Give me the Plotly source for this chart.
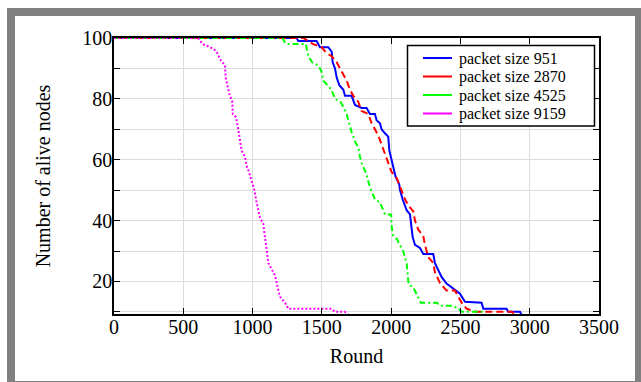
import plotly.graph_objects as go

# ---------------- data ----------------
series_names = ["packet size 951", "packet size 2870", "packet size 4525", "packet size 9159"]

rounds_951 = [0, 1318, 1330, 1462, 1486, 1546, 1571, 1578, 1595, 1607, 1626, 1655, 1667, 1715,
              1739, 1787, 1823, 1847, 1883, 1895, 1919, 1931, 1955, 1979, 1987, 2004, 2015, 2032,
              2058, 2064, 2083, 2112, 2136, 2148, 2155, 2172, 2208, 2232, 2304, 2316, 2340, 2364,
              2400, 2436, 2472, 2497, 2533, 2653, 2665, 2833, 2845, 2930, 2942, 3074]
alive_951 = [100, 100, 99, 99, 97, 97, 95.5, 92, 90, 87, 84.5, 83, 81, 81,
             78, 77, 77, 75, 75, 73, 72, 70, 68.7, 67.6, 63, 60, 58, 54.4,
             52, 50, 47, 43.4, 42, 38, 34.7, 32, 31, 29, 29, 26, 23.7, 21.5,
             19.3, 18, 17, 16, 13.3, 13, 11, 11, 10, 10, 9, 9]

rounds_2870 = [0, 1366, 1438, 1498, 1534, 1571, 1607, 1631, 1655, 1679, 1703, 1727, 1763, 1787,
               1835, 1859, 1883, 1907, 1931, 1955, 1979, 2003, 2040, 2064, 2100, 2124, 2160, 2172,
               2196, 2232, 2244, 2268, 2304, 2316, 2352, 2400, 2460, 2484, 2509, 2545, 2617, 2870,
               2900, 3110]
alive_2870 = [100, 100, 98, 97, 95, 94, 92, 90, 88, 86, 83, 81, 79, 76,
              75, 72, 70, 68, 65, 62, 59, 56, 54, 51, 47, 45, 43, 40,
              37, 35, 32, 28, 26, 23, 19.5, 17, 17, 15, 13, 11, 10, 10,
              9, 9]

rounds_4525 = [0, 1215, 1241, 1385, 1402, 1430, 1474, 1498, 1510, 1546, 1570, 1595, 1635, 1660,
               1679, 1703, 1715, 1739, 1763, 1775, 1787, 1823, 1847, 1883, 1919, 1956, 1968, 2000,
               2004, 2015, 2040, 2064, 2087, 2112, 2126, 2160, 2215, 2330, 2352, 2448, 2484, 2509,
               2665, 2680]
alive_4525 = [100, 100, 98, 98, 94, 92, 91, 89, 86, 84, 83, 80, 79, 77,
              75, 71, 69, 66, 64, 61, 59, 55, 51, 47, 46, 42, 42, 42,
              38, 35, 34, 32, 30, 26, 19, 18, 13, 13, 12, 12, 11, 10,
              10, 9]

rounds_9159 = [0, 606, 640, 693, 729, 746, 765, 784, 801, 806, 813, 825, 837, 854, 857, 880, 893,
               902, 909, 921, 945, 957, 974, 993, 1013, 1029, 1053, 1077, 1090, 1102, 1114, 1138,
               1162, 1186, 1198, 1234, 1258, 1571, 1595, 1667, 1691]
alive_9159 = [100, 100, 98, 97, 96, 95, 93, 92, 91, 87, 85, 83, 81, 79, 75, 74, 71,
              68, 66, 63, 61, 58, 56, 53, 50, 46, 41, 39, 35, 30, 26, 24,
              22, 17, 15, 13, 11, 11, 10, 10, 9]

x_ticks = [0, 500, 1000, 1500, 2000, 2500, 3000, 3500]
y_ticks = [10, 20, 30, 40, 50, 60, 70, 80, 90, 100]
y_ticktext = ["", "20", "", "40", "", "60", "", "80", "", "100"]

colors = ["#0000ff", "#ff0000", "#00ff00", "#ff00ff"]
dashes = ["solid", "7px,4px", "6px,3px,2px,3px", "2px,2px"]

# ---------------- layout geometry (pixels) ----------------
W, H = 641, 382
ML, MR, MT, MB = 114, 42, 38, 68
PW, PH = W - ML - MR, H - MT - MB


def px(xp):
    return (xp - ML) / PW


def py(yp):
    return (H - MB - yp) / PH


FONT = "Liberation Serif"

fig = go.Figure()
all_x = [rounds_951, rounds_2870, rounds_4525, rounds_9159]
all_y = [alive_951, alive_2870, alive_4525, alive_9159]
for name, xs, ys, c, d in zip(series_names, all_x, all_y, colors, dashes):
    fig.add_trace(go.Scatter(x=xs, y=ys, mode="lines", name=name, showlegend=False,
                             line=dict(color=c, width=2, dash=d)))

LEG_TOP, LEG_STEP = 58, 18.5
leg_line_y = [LEG_TOP + i * LEG_STEP for i in range(4)]
shapes = [
    # gray frame
    dict(type="rect", xref="paper", yref="paper", x0=px(7), x1=px(700), y0=py(8), y1=py(460),
         fillcolor="#808080", line=dict(width=0), layer="below"),
    dict(type="rect", xref="paper", yref="paper", x0=px(15), x1=px(635), y0=py(16), y1=py(381),
         fillcolor="#ffffff", line=dict(width=0), layer="below"),
    # legend box
    dict(type="rect", xref="paper", yref="paper", x0=px(407.5), x1=px(594.5), y0=py(45.5),
         y1=py(leg_line_y[-1] + 12.5),
         fillcolor="#ffffff", line=dict(color="#000000", width=1.5), layer="above"),
]
annotations = []
for name, c, ly in zip(series_names, colors, leg_line_y):
    shapes.append(dict(type="line", xref="paper", yref="paper", x0=px(423), x1=px(452),
                       y0=py(ly), y1=py(ly), line=dict(color=c, width=2), layer="above"))
    annotations.append(dict(xref="paper", yref="paper", x=px(458), y=py(ly + 0.5), text=name,
                            showarrow=False, xanchor="left", yanchor="middle", borderpad=0,
                            font=dict(family=FONT, size=16, color="#000000")))

fig.update_layout(
    width=W, height=H,
    margin=dict(l=ML, r=MR, t=MT, b=MB, pad=0),
    paper_bgcolor="#ffffff", plot_bgcolor="#ffffff",
    font=dict(family=FONT, size=20, color="#000000"),
    shapes=shapes, annotations=annotations, showlegend=False,
)
fig.update_xaxes(range=[0, 3500], tickvals=x_ticks, ticks="inside", ticklen=6, tickwidth=1.2,
                 tickcolor="#000000", showline=True, linecolor="#000000", linewidth=1.5,
                 mirror="ticks", showgrid=True, gridcolor="#dcdcdc", gridwidth=1, zeroline=False,
                 tickfont=dict(family=FONT, size=20), ticklabelstandoff=-6,
                 title=dict(text="Round", font=dict(family=FONT, size=20), standoff=12))
fig.update_yaxes(range=[9.3, 100], tickvals=y_ticks, ticktext=y_ticktext, ticks="inside", ticklen=6,
                 tickwidth=1.2, tickcolor="#000000", showline=True, linecolor="#000000", linewidth=1.5,
                 mirror="ticks", showgrid=True, gridcolor="#dcdcdc", gridwidth=1, zeroline=False,
                 tickfont=dict(family=FONT, size=20), ticklabelstandoff=-4,
                 title=dict(text="Number of alive nodes", font=dict(family=FONT, size=20), standoff=26))

fig.write_html("out.html", config={"displayModeBar": False},
               post_script="document.body.style.margin='0';document.body.style.overflow='hidden';")
